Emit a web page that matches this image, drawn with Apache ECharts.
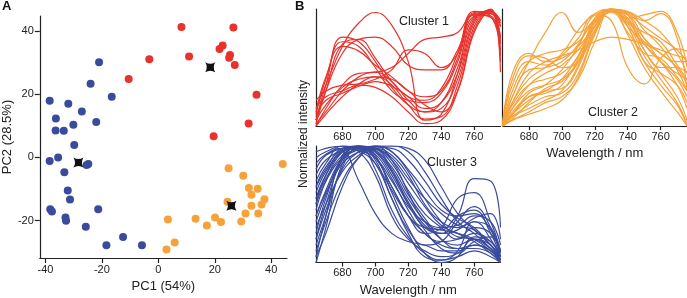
<!DOCTYPE html>
<html><head><meta charset="utf-8">
<script src="https://cdn.jsdelivr.net/npm/echarts@6/dist/echarts.min.js"></script>
<style>html,body{margin:0;padding:0;background:#fff}#c{width:687px;height:298px}</style>
</head><body><div id="c"></div>
<script>
// ---------- Panel A: PCA scores ----------
const cluster1PC1 = [8.2, 26.6, -3.2, 10.9, -10.5, 22.8, 21.7, 25.4, 25.1, 27.1, 34.8, 32.0, 19.6];
const cluster1PC2 = [41.2, 41.1, 31.0, 31.9, 24.8, 35.4, 34.3, 32.4, 31.5, 29.2, 19.8, 10.7, 6.7];
const cluster2PC1 = [44.1, 24.9, 30.1, 32.1, 35.2, 33.0, 37.6, 24.5, 33.0, 36.6, 30.9, 35.4, 20.1, 13.2, 3.4, 22.2, 29.4, 17.2, 5.8, 2.9];
const cluster2PC2 = [-2.1, -3.4, -5.8, -9.7, -9.9, -11.8, -13.2, -14.0, -15.3, -14.9, -17.7, -17.7, -19.0, -19.4, -19.6, -20.4, -20.3, -21.5, -26.9, -29.1];
const cluster3PC1 = [-21.0, -24.0, -16.5, -38.5, -31.9, -27.1, -36.3, -30.1, -22.0, -36.4, -33.5, -29.8, -38.5, -35.5, -25.4, -24.8, -33.3, -32.1, -31.3, -38.3, -37.7, -21.3, -32.9, -32.7, -25.7, -12.5, -18.4, -5.8];
const cluster3PC2 = [30.1, 23.3, 19.2, 17.9, 17.0, 14.5, 12.3, 10.3, 11.2, 8.5, 8.4, 3.9, -1.1, 0.0, -2.4, -2.1, -4.7, -10.5, -13.3, -16.4, -17.1, -16.4, -19.0, -20.0, -21.9, -25.2, -27.8, -27.8];
const centroidPC1 = [18.4, 25.9, -28.3];
const centroidPC2 = [28.5, -15.3, -1.6];
const pcaTicksX = [-40, -20, 0, 20, 40];
const pcaTicksY = [-20, 0, 20, 40];

// ---------- Panel B: spectra ----------
const wavelengths = [664, 670, 680, 690, 700, 710, 720, 730, 740, 750, 760, 770, 776];
const wavelengthTicks = [680, 700, 720, 740, 760];
const cluster1Spectra = [
  [0.15, 0.35, 0.68, 0.88, 0.97, 0.86, 0.55, 0.05, 0.10, 0.45, 0.93, 0.96, 0.85],
  [0.05, 0.35, 0.76, 0.72, 0.55, 0.33, 0.18, 0.12, 0.20, 0.50, 0.92, 0.98, 0.90],
  [0.10, 0.40, 0.72, 0.68, 0.50, 0.30, 0.22, 0.20, 0.28, 0.55, 0.94, 0.96, 0.75],
  [0.02, 0.30, 0.70, 0.74, 0.58, 0.38, 0.25, 0.22, 0.32, 0.62, 0.98, 0.94, 0.65],
  [0.12, 0.42, 0.68, 0.64, 0.52, 0.42, 0.30, 0.25, 0.30, 0.58, 0.95, 0.93, 0.70],
  [0.05, 0.30, 0.62, 0.74, 0.76, 0.68, 0.52, 0.48, 0.48, 0.65, 0.96, 0.97, 0.88],
  [0.22, 0.30, 0.35, 0.36, 0.40, 0.48, 0.65, 0.62, 0.50, 0.62, 0.95, 0.94, 0.72],
  [0.00, 0.15, 0.35, 0.45, 0.46, 0.50, 0.62, 0.74, 0.76, 0.80, 0.97, 0.98, 0.90],
  [0.02, 0.12, 0.30, 0.42, 0.46, 0.38, 0.22, 0.12, 0.15, 0.40, 0.88, 0.99, 0.75],
  [0.05, 0.18, 0.33, 0.40, 0.42, 0.35, 0.18, 0.06, 0.08, 0.35, 0.85, 1.00, 0.60],
  [0.08, 0.22, 0.28, 0.34, 0.38, 0.34, 0.25, 0.15, 0.20, 0.45, 0.90, 0.99, 0.85],
  [0.00, 0.10, 0.25, 0.36, 0.42, 0.40, 0.30, 0.18, 0.12, 0.30, 0.80, 0.99, 0.55],
  [0.15, 0.25, 0.30, 0.35, 0.33, 0.25, 0.12, 0.02, 0.05, 0.30, 0.82, 1.00, 0.46]
];
const cluster2Spectra = [
  [0.00, 0.25, 0.55, 0.80, 0.97, 0.80, 0.90, 1.00, 0.85, 0.55, 0.45, 0.35, 0.20],
  [0.00, 0.45, 0.62, 0.55, 0.58, 0.68, 0.85, 1.00, 0.95, 0.70, 0.55, 0.45, 0.40],
  [0.00, 0.40, 0.60, 0.58, 0.50, 0.55, 0.80, 0.98, 0.90, 0.65, 0.50, 0.50, 0.45],
  [0.00, 0.30, 0.55, 0.62, 0.65, 0.72, 0.90, 1.00, 0.92, 0.75, 0.62, 0.55, 0.55],
  [0.00, 0.20, 0.40, 0.50, 0.60, 0.75, 0.95, 0.90, 0.50, 0.36, 0.58, 0.66, 0.64],
  [0.00, 0.15, 0.35, 0.45, 0.52, 0.65, 0.85, 0.98, 0.92, 0.95, 0.98, 0.80, 0.50],
  [0.00, 0.10, 0.25, 0.30, 0.40, 0.60, 0.85, 1.00, 0.97, 0.90, 0.96, 0.75, 0.30],
  [0.00, 0.20, 0.45, 0.55, 0.60, 0.65, 0.72, 0.76, 0.74, 0.70, 0.65, 0.60, 0.58],
  [0.00, 0.08, 0.18, 0.25, 0.28, 0.45, 0.80, 1.00, 0.92, 0.65, 0.45, 0.25, 0.05],
  [0.00, 0.10, 0.22, 0.30, 0.32, 0.50, 0.85, 1.00, 0.88, 0.60, 0.40, 0.20, 0.02],
  [0.00, 0.12, 0.25, 0.28, 0.35, 0.58, 0.90, 0.99, 0.85, 0.70, 0.55, 0.35, 0.15],
  [0.00, 0.05, 0.12, 0.20, 0.25, 0.40, 0.72, 0.98, 0.95, 0.75, 0.55, 0.40, 0.25],
  [0.00, 0.15, 0.30, 0.35, 0.40, 0.55, 0.82, 1.00, 0.90, 0.72, 0.62, 0.50, 0.35],
  [0.00, 0.08, 0.15, 0.22, 0.30, 0.52, 0.88, 1.00, 0.85, 0.55, 0.35, 0.18, 0.00],
  [0.00, 0.18, 0.35, 0.40, 0.45, 0.60, 0.88, 0.97, 0.80, 0.62, 0.58, 0.42, 0.30],
  [0.00, 0.06, 0.20, 0.32, 0.38, 0.55, 0.92, 1.00, 0.78, 0.50, 0.30, 0.12, 0.00],
  [0.00, 0.25, 0.48, 0.50, 0.55, 0.70, 0.92, 1.00, 0.96, 0.85, 0.75, 0.65, 0.55],
  [0.00, 0.10, 0.28, 0.35, 0.48, 0.68, 0.95, 0.98, 0.88, 0.80, 0.72, 0.52, 0.40],
  [0.00, 0.35, 0.55, 0.52, 0.62, 0.82, 0.96, 1.00, 0.98, 0.90, 0.80, 0.62, 0.45],
  [0.00, 0.05, 0.10, 0.15, 0.22, 0.42, 0.78, 0.98, 0.97, 0.82, 0.68, 0.48, 0.30]
];
const cluster3Spectra = [
  [0.00, 0.30, 0.85, 0.98, 0.90, 0.65, 0.40, 0.25, 0.15, 0.12, 0.15, 0.10, 0.02],
  [0.05, 0.40, 0.92, 1.00, 0.80, 0.45, 0.22, 0.08, 0.02, 0.05, 0.10, 0.05, 0.00],
  [0.90, 0.95, 1.00, 0.95, 0.75, 0.40, 0.20, 0.10, 0.05, 0.08, 0.20, 0.15, 0.02],
  [0.80, 0.92, 0.98, 1.00, 0.98, 0.80, 0.55, 0.35, 0.20, 0.15, 0.20, 0.12, 0.03],
  [0.40, 0.60, 0.85, 0.95, 1.00, 1.00, 0.95, 0.78, 0.55, 0.35, 0.25, 0.12, 0.02],
  [0.30, 0.50, 0.78, 0.92, 0.99, 0.98, 0.88, 0.70, 0.50, 0.38, 0.30, 0.15, 0.05],
  [0.55, 0.75, 0.95, 1.00, 0.95, 0.75, 0.50, 0.30, 0.25, 0.40, 0.72, 0.70, 0.30],
  [0.65, 0.80, 0.98, 1.00, 0.90, 0.65, 0.40, 0.25, 0.30, 0.55, 0.60, 0.35, 0.10],
  [0.20, 0.45, 0.80, 0.95, 1.00, 0.88, 0.60, 0.35, 0.28, 0.40, 0.45, 0.25, 0.05],
  [0.10, 0.35, 0.70, 0.90, 0.98, 0.92, 0.75, 0.50, 0.35, 0.30, 0.35, 0.20, 0.02],
  [0.60, 0.78, 0.95, 0.98, 0.97, 0.85, 0.62, 0.42, 0.30, 0.20, 0.25, 0.18, 0.05],
  [0.45, 0.70, 0.95, 1.00, 0.92, 0.60, 0.30, 0.08, 0.00, 0.05, 0.22, 0.18, 0.05],
  [0.70, 0.85, 1.00, 0.98, 0.85, 0.55, 0.25, 0.05, 0.02, 0.10, 0.35, 0.30, 0.08],
  [0.50, 0.75, 0.95, 0.70, 0.42, 0.25, 0.18, 0.15, 0.10, 0.10, 0.15, 0.10, 0.00],
  [0.25, 0.55, 0.90, 1.00, 0.98, 0.90, 0.72, 0.55, 0.42, 0.32, 0.28, 0.15, 0.03],
  [0.35, 0.58, 0.88, 0.97, 1.00, 0.95, 0.80, 0.62, 0.45, 0.40, 0.42, 0.28, 0.08],
  [0.75, 0.88, 0.96, 0.99, 0.93, 0.72, 0.45, 0.25, 0.18, 0.20, 0.30, 0.25, 0.10],
  [0.15, 0.40, 0.82, 0.98, 0.96, 0.78, 0.50, 0.28, 0.12, 0.08, 0.18, 0.22, 0.10],
  [0.50, 0.70, 0.90, 0.98, 1.00, 1.00, 0.98, 0.88, 0.65, 0.42, 0.28, 0.15, 0.05],
  [0.85, 0.93, 0.98, 0.96, 0.90, 0.70, 0.48, 0.35, 0.30, 0.32, 0.40, 0.35, 0.15],
  [0.05, 0.25, 0.65, 0.90, 1.00, 0.95, 0.78, 0.55, 0.35, 0.22, 0.20, 0.12, 0.02],
  [0.55, 0.72, 0.92, 0.99, 0.95, 0.82, 0.58, 0.38, 0.20, 0.12, 0.12, 0.08, 0.00],
  [0.40, 0.62, 0.90, 1.00, 0.88, 0.55, 0.28, 0.15, 0.18, 0.35, 0.48, 0.30, 0.05],
  [0.95, 0.98, 1.00, 0.96, 0.85, 0.62, 0.40, 0.30, 0.28, 0.25, 0.20, 0.10, 0.02],
  [0.20, 0.50, 0.88, 1.00, 0.95, 0.78, 0.52, 0.32, 0.25, 0.28, 0.38, 0.42, 0.20],
  [0.65, 0.82, 0.97, 1.00, 0.98, 0.88, 0.68, 0.48, 0.32, 0.25, 0.18, 0.08, 0.00]
];

const RED = '#e8322b', ORANGE = '#f6a23a', BLUE = '#3a4b9d';
const FONT = 'Liberation Sans, Arial, sans-serif';
const AX = '#222';

const zip = (a, b) => a.map((v, i) => [v, b[i]]);
const starPath = 'path://M0,0 Q5,3 10,0 Q7,5 10,10 Q5,7 0,10 Q3,5 0,0 Z';

function specX(grid, showName) {
  return {
    type: 'value', gridIndex: grid, min: 664, max: 776,
    splitLine: { show: false },
    axisLine: { show: true, onZero: false, lineStyle: { color: AX, width: 1.2 } },
    axisTick: { show: true, length: 4, customValues: wavelengthTicks, lineStyle: { color: AX, width: 1.2 } },
    axisLabel: { customValues: wavelengthTicks, color: AX, fontSize: 11, fontFamily: FONT, margin: 5 },
    name: showName ? 'Wavelength / nm' : '', nameLocation: 'middle', nameGap: 21,
    nameTextStyle: { color: AX, fontSize: 13, fontFamily: FONT }
  };
}
function specY(grid) {
  return {
    type: 'value', gridIndex: grid, min: 0, max: 1,
    splitLine: { show: false },
    axisLine: { show: true, onZero: false, lineStyle: { color: AX, width: 1.2 } },
    axisTick: { show: false }, axisLabel: { show: false }
  };
}
function specSeries(list, idx, color) {
  return list.map(vals => ({
    type: 'line', xAxisIndex: idx, yAxisIndex: idx,
    data: zip(wavelengths, vals), smooth: 0.45, symbol: 'none',
    lineStyle: { color: color, width: 1.2 }, silent: true, animation: false, clip: true
  }));
}

const series = [
  { type: 'scatter', xAxisIndex: 0, yAxisIndex: 0, data: zip(cluster1PC1, cluster1PC2), symbolSize: 8, itemStyle: { color: RED, opacity: 1 } },
  { type: 'scatter', xAxisIndex: 0, yAxisIndex: 0, data: zip(cluster2PC1, cluster2PC2), symbolSize: 8, itemStyle: { color: ORANGE, opacity: 1 } },
  { type: 'scatter', xAxisIndex: 0, yAxisIndex: 0, data: zip(cluster3PC1, cluster3PC2), symbolSize: 8, itemStyle: { color: BLUE, opacity: 1 } },
  { type: 'scatter', xAxisIndex: 0, yAxisIndex: 0, data: zip(centroidPC1, centroidPC2), symbol: starPath, symbolSize: 10, itemStyle: { color: '#111', opacity: 1 }, z: 5 }
].concat(specSeries(cluster1Spectra, 1, RED), specSeries(cluster2Spectra, 2, ORANGE), specSeries(cluster3Spectra, 3, BLUE));

const chart = echarts.init(document.getElementById('c'), null, { renderer: 'canvas' });
chart.setOption({
  animation: false,
  textStyle: { fontFamily: FONT },
  grid: [
    { left: 36.7, top: 16, width: 250.3, height: 247 },
    { left: 316, top: 9, width: 184.5, height: 117 },
    { left: 502.5, top: 9, width: 185, height: 117 },
    { left: 316, top: 146, width: 184.5, height: 116.5 }
  ],
  xAxis: [
    {
      type: 'value', gridIndex: 0, min: -42, max: 45.6,
      splitLine: { show: false },
      axisLine: { show: true, onZero: false, lineStyle: { color: AX, width: 1.2 } },
      axisTick: { show: true, length: 5, customValues: pcaTicksX, lineStyle: { color: AX, width: 1.2 } },
      axisLabel: { customValues: pcaTicksX, color: AX, fontSize: 11, fontFamily: FONT, margin: 6 },
      name: 'PC1 (54%)', nameLocation: 'middle', nameGap: 22,
      nameTextStyle: { color: AX, fontSize: 13, fontFamily: FONT }
    },
    specX(1, false), specX(2, true), specX(3, true)
  ],
  yAxis: [
    {
      type: 'value', gridIndex: 0, min: -31.8, max: 44.7,
      splitLine: { show: false },
      axisLine: { show: true, onZero: false, lineStyle: { color: AX, width: 1.2 } },
      axisTick: { show: true, length: 5, customValues: pcaTicksY, lineStyle: { color: AX, width: 1.2 } },
      axisLabel: { customValues: pcaTicksY, color: AX, fontSize: 11, fontFamily: FONT, margin: 6 },
      name: 'PC2 (28.5%)', nameLocation: 'middle', nameGap: 23,
      nameTextStyle: { color: AX, fontSize: 13, fontFamily: FONT }
    },
    specY(1), specY(2), specY(3)
  ],
  graphic: [
    { type: 'text', left: 2, top: 0, style: { text: 'A', font: 'bold 13px ' + FONT, fill: '#111' } },
    { type: 'text', left: 295, top: 0, style: { text: 'B', font: 'bold 13px ' + FONT, fill: '#111' } },
    { type: 'text', x: 304, y: 134, rotation: Math.PI / 2, style: { text: 'Normalized intensity', font: '12px ' + FONT, fill: AX, align: 'center', verticalAlign: 'middle' } },
    { type: 'text', x: 399, y: 22, style: { text: 'Cluster 1', font: '12.5px ' + FONT, fill: AX, verticalAlign: 'middle' } },
    { type: 'text', x: 588, y: 113, style: { text: 'Cluster 2', font: '12.5px ' + FONT, fill: AX, verticalAlign: 'middle' } },
    { type: 'text', x: 427, y: 163, style: { text: 'Cluster 3', font: '12.5px ' + FONT, fill: AX, verticalAlign: 'middle' } }
  ],
  series: series
});
</script>
</body></html>
